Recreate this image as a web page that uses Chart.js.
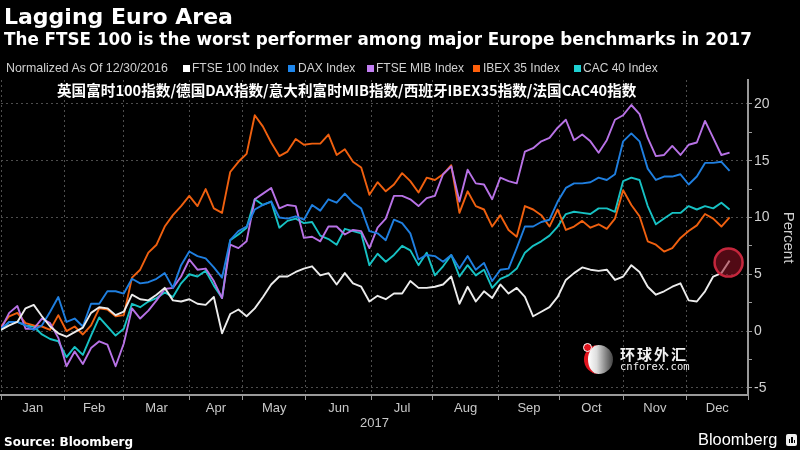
<!DOCTYPE html>
<html><head><meta charset="utf-8">
<script src="https://cdn.jsdelivr.net/npm/chart.js@4.4.0/dist/chart.umd.min.js"></script>
<style>
html,body{margin:0;padding:0;background:#000;}
#wrap{position:relative;width:800px;height:450px;overflow:hidden;background:#000;}
canvas{position:absolute;left:0;top:0;}
.t{position:absolute;white-space:nowrap;color:#fff;}
#title{left:4px;top:6px;font:bold 22px/22px "DejaVu Sans",sans-serif;}
#sub{left:4px;top:31px;font:bold 16.8px/16.8px "DejaVu Sans",sans-serif;}
.lg{top:62px;font:12px/12px "Liberation Sans",sans-serif;color:#d0d0d0;}
.sq{position:absolute;top:65px;width:7px;height:7px;}
#cn{left:57px;top:83px;font:bold 14.6px/14.6px "Noto Sans CJK SC",sans-serif;color:#fff;}
#src{left:4px;top:436px;font:bold 12px/12px "DejaVu Sans",sans-serif;}
#bb{left:698px;top:431px;font:500 16.4px/16px "Liberation Sans",sans-serif;}
#bbicon{position:absolute;left:786px;top:434px;width:11px;height:12px;background:#eee;border-radius:2px;}
#bbicon i{position:absolute;bottom:3px;width:1.5px;background:#000;}
#wm1{left:620px;top:346px;font:bold 15px/15px "Noto Sans CJK SC",sans-serif;letter-spacing:2px;color:#f2f2f2;}
#wm2{left:620px;top:361px;font:10.5px/10.5px "DejaVu Sans Mono",monospace;color:#f2f2f2;}
#logo{position:absolute;left:584px;top:345px;width:29px;height:29px;border-radius:50%;
  background:linear-gradient(90deg,#fff 0%,#ddd 35%,#888 70%,#444 100%);border-left:4px solid #e0141e;box-sizing:border-box;}
#logodot{position:absolute;left:583px;top:343px;width:7px;height:7px;border-radius:50%;background:#e0141e;border:1.5px solid #fff;}
</style></head><body>
<div id="wrap">
<canvas id="c" width="800" height="450"></canvas>
<div class="t" id="title">Lagging Euro Area</div>
<div class="t" id="sub">The FTSE 100 is the worst performer among major Europe benchmarks in 2017</div>
<div class="t lg" style="left:6px;font-size:12.4px">Normalized As Of 12/30/2016</div>
<div class="sq" style="left:183px;background:#ffffff"></div><div class="t lg" style="left:192px">FTSE 100 Index</div>
<div class="sq" style="left:288px;background:#1e86ec"></div><div class="t lg" style="left:298px">DAX Index</div>
<div class="sq" style="left:367px;background:#c27ef2"></div><div class="t lg" style="left:376px">FTSE MIB Index</div>
<div class="sq" style="left:473px;background:#ff5f0a"></div><div class="t lg" style="left:483px">IBEX 35 Index</div>
<div class="sq" style="left:574px;background:#1ed0d2"></div><div class="t lg" style="left:583px">CAC 40 Index</div>
<div class="t" id="cn">英国富时100指数/德国DAX指数/意大利富时MIB指数/西班牙IBEX35指数/法国CAC40指数</div>
<div id="logo"></div><div id="logodot"></div>
<div class="t" id="wm1">环球外汇</div>
<div class="t" id="wm2">cnforex.com</div>
<div class="t" id="src">Source: Bloomberg</div>
<div class="t" id="bb">Bloomberg</div>
<div id="bbicon"><i style="left:2.5px;height:4px"></i><i style="left:5px;height:6px"></i><i style="left:7.5px;height:3px"></i></div>
</div>
<script>
// x = day of 2017 (0 = Jan 1)
const days = [0,4,8,12,16,20,24,28,32,36,40,44,48,52,56,60,64,68,72,76,80,84,88,92,
  96,100,104,108,112,116,120,124,128,132,136,140,144,148,152,156,160,164,168,172,176,180,
  184,188,192,196,200,204,208,212,216,220,224,228,232,236,240,244,248,252,256,260,264,268,272,
  276,280,284,288,292,296,300,304,308,312,316,320,324,328,332,336,340,344,348,352,356];

const ftse100 = [0.1,0.5,0.8,2.0,2.3,1.3,0.4,-0.2,-0.5,-0.1,0.3,1.6,2.1,2.0,1.4,1.7,3.2,2.8,2.7,3.2,3.8,2.7,2.6,2.8,
  2.4,2.3,3.0,-0.2,1.5,1.9,1.3,2.0,3.0,4.1,4.8,4.8,5.2,5.5,5.7,4.9,5.1,4.1,5.1,4.2,3.9,2.6,
  3.1,2.8,3.3,3.3,4.4,3.8,3.8,3.9,4.1,4.8,2.4,3.9,2.6,3.5,2.9,4.1,3.3,3.8,3.0,1.3,1.7,2.1,3.0,
  4.5,5.1,5.6,5.4,5.3,5.4,4.5,4.8,5.8,5.2,3.9,3.2,3.5,3.9,4.2,2.7,2.6,3.5,4.8,5.1,6.2];

const dax = [0.2,0.8,0.8,0.5,0.1,0.5,1.7,3.0,0.8,1.1,0.4,2.4,2.4,3.5,3.5,3.3,4.6,4.2,4.3,4.6,5.1,3.8,5.8,7.0,
  6.6,6.4,5.6,4.7,8.0,8.8,9.2,10.7,11.1,11.4,10.0,9.9,10.1,9.8,11.1,10.6,11.6,11.3,12.1,11.3,10.8,8.8,
  8.6,8.0,9.8,9.5,8.6,6.3,6.7,6.6,6.1,6.7,5.5,6.6,5.4,6.0,4.4,5.4,5.5,7.3,9.2,9.2,9.6,9.8,11.4,
  12.6,13.0,13.0,13.1,13.5,13.3,13.8,16.7,17.4,16.7,14.3,13.3,13.6,13.6,13.8,12.9,13.6,14.8,14.8,14.9,14.1];

const ftseMib = [0.2,1.6,2.2,0.2,0.2,1.1,0.7,-0.6,-3.1,-1.8,-2.9,-1.5,-0.9,-1.2,-3.1,-1.1,2.0,1.1,1.8,2.7,3.7,3.8,4.8,6.3,
  5.4,5.5,4.4,2.9,7.6,7.3,7.9,11.6,12.1,12.6,10.8,11.1,11.0,8.2,8.3,7.9,9.2,9.2,8.5,8.9,8.8,7.3,
  9.1,9.9,11.9,11.9,11.6,11.0,11.7,11.9,13.8,14.5,11.4,14.2,13.0,12.9,11.6,13.5,13.2,13.0,15.8,16.1,16.7,17.0,17.9,
  18.6,16.8,17.3,16.7,15.7,16.8,18.6,19.0,19.9,19.1,17.0,15.4,15.5,16.3,15.5,16.4,16.6,18.5,17.0,15.5,15.7];

const ibex35 = [0.4,1.3,1.6,0.7,0.5,0.4,0.1,1.4,0.0,0.4,-0.3,0.5,2.0,1.9,1.3,1.4,4.7,5.4,6.9,7.6,9.2,10.2,11.0,11.9,
  11.0,12.5,10.8,10.4,14.0,14.9,15.6,19.0,18.0,16.6,15.4,15.8,16.9,16.4,16.5,16.5,17.3,15.5,16.0,14.9,14.4,12.0,
  13.1,12.3,12.9,13.9,13.2,12.2,13.5,13.3,13.8,14.6,10.4,12.3,11.0,10.7,9.2,10.2,8.9,8.3,11.0,10.7,10.2,9.2,10.7,
  8.9,9.2,9.7,9.1,9.4,9.0,9.9,12.4,11.1,10.1,7.9,7.6,7.0,7.3,8.2,8.8,9.3,10.3,9.9,9.2,10.0];

const cac40 = [0.1,0.8,0.8,0.5,0.4,-0.3,-0.7,-0.9,-2.3,-1.4,-2.1,-0.4,1.2,0.4,-0.4,0.2,2.4,2.1,2.6,2.9,3.4,3.0,4.2,5.0,
  4.8,5.3,4.0,2.9,8.0,8.5,9.1,11.6,11.1,11.4,9.1,9.7,9.9,9.5,9.6,8.4,8.1,7.6,9.0,8.8,8.6,5.8,
  6.8,6.1,6.7,7.5,7.1,5.8,6.9,4.9,5.7,6.7,4.8,5.8,4.9,5.4,3.8,4.6,4.9,5.5,6.9,7.5,7.9,8.4,9.2,
  10.3,10.5,10.4,10.3,10.8,10.8,10.5,13.2,13.5,13.3,11.0,9.4,9.9,10.4,10.4,11.0,10.7,11.0,10.8,11.3,10.7];

const seriesNames = ['FTSE 100 Index','DAX Index','FTSE MIB Index','IBEX 35 Index','CAC 40 Index'];
const monthLabels = ['Jan','Feb','Mar','Apr','May','Jun','Jul','Aug','Sep','Oct','Nov','Dec'];
const monthBounds = [0,31,60,92,118,149,181,211,243,273,304,335,365];
const yTickValues = [-5,-2.5,0,2.5,5,7.5,10,12.5,15,17.5,20];
const yearLabel = '2017';

const series = [
  {name: seriesNames[0], data: ftse100, color: '#ececec'},
  {name: seriesNames[1], data: dax, color: '#1f7fe0'},
  {name: seriesNames[2], data: ftseMib, color: '#b872e6'},
  {name: seriesNames[3], data: ibex35, color: '#f0600f'},
  {name: seriesNames[4], data: cac40, color: '#17c2c4'}
];

const boundSet = new Set(monthBounds);
const midPoints = monthBounds.slice(0, -1).map((b, i) => (b + monthBounds[i + 1]) / 2);

const highlight = {
  id: 'highlight',
  afterDatasetsDraw(chart) {
    const meta = chart.getDatasetMeta(0);
    const p = meta.data[meta.data.length - 1];
    const ctx = chart.ctx;
    ctx.save();
    ctx.beginPath();
    ctx.arc(p.x - 1, p.y + 2, 14, 0, Math.PI * 2);
    ctx.fillStyle = 'rgba(150,18,38,0.55)';
    ctx.fill();
    ctx.lineWidth = 2.5;
    ctx.strokeStyle = '#c4263c';
    ctx.stroke();
    ctx.restore();
  }
};

new Chart(document.getElementById('c'), {
  type: 'line',
  data: {
    datasets: series.map(s => ({
      label: s.name,
      data: days.map((d, i) => ({x: d, y: s.data[i]})),
      borderColor: s.color,
      backgroundColor: s.color,
      borderWidth: 1.9,
      pointRadius: 0,
      tension: 0,
      borderJoinStyle: 'round',
      fill: false
    }))
  },
  options: {
    responsive: false,
    animation: false,
    devicePixelRatio: 1,
    layout: {padding: {top: 80, left: 0, right: 0, bottom: 0}},
    plugins: {legend: {display: false}, tooltip: {enabled: false}, title: {display: false}},
    scales: {
      x: {
        type: 'linear', position: 'bottom', min: 0, max: 365,
        afterBuildTicks: sc => {
          sc.ticks = monthBounds.map(v => ({value: v})).concat(midPoints.map(v => ({value: v})))
            .sort((a, b) => a.value - b.value);
        },
        afterFit: sc => { sc.height = 55; },
        ticks: {
          autoSkip: false, maxRotation: 0, padding: 1,
          color: '#c8c8c8', font: {family: 'Liberation Sans', size: 13},
          callback: v => {
            const i = midPoints.indexOf(v);
            return i >= 0 ? monthLabels[i] : '';
          }
        },
        grid: {
          color: c => (c.tick && boundSet.has(c.tick.value)) ? '#4d4d4d' : 'rgba(0,0,0,0)',
          tickColor: c => (c.tick && boundSet.has(c.tick.value)) ? '#9a9a9a' : 'rgba(0,0,0,0)',
          tickLength: 5, lineWidth: 1
        },
        border: {display: true, color: '#9a9a9a', width: 2, dash: [2, 3]},
        title: {display: true, text: yearLabel, color: '#c8c8c8', font: {family: 'Liberation Sans', size: 13}, padding: {top: 0, bottom: 19}}
      },
      y: {
        type: 'linear', position: 'right', min: -5.63, max: 22.1,
        afterBuildTicks: sc => { sc.ticks = yTickValues.map(v => ({value: v})); },
        afterFit: sc => { sc.width = 52; },
        ticks: {
          padding: 2, color: '#cfcfcf', font: {family: 'Liberation Sans', size: 14},
          callback: v => (v % 5 === 0 ? String(v) : '')
        },
        grid: {
          color: c => (c.tick && c.tick.value % 5 === 0) ? '#4d4d4d' : 'rgba(0,0,0,0)',
          tickColor: '#9a9a9a', tickLength: 4, lineWidth: 1
        },
        border: {display: true, color: '#9a9a9a', width: 2, dash: [2, 3]},
        title: {display: true, text: 'Percent', color: '#cfcfcf', font: {family: 'Liberation Sans', size: 15}, padding: {top: 3, bottom: 0}}
      }
    }
  },
  plugins: [highlight]
});
</script>
</body></html>
